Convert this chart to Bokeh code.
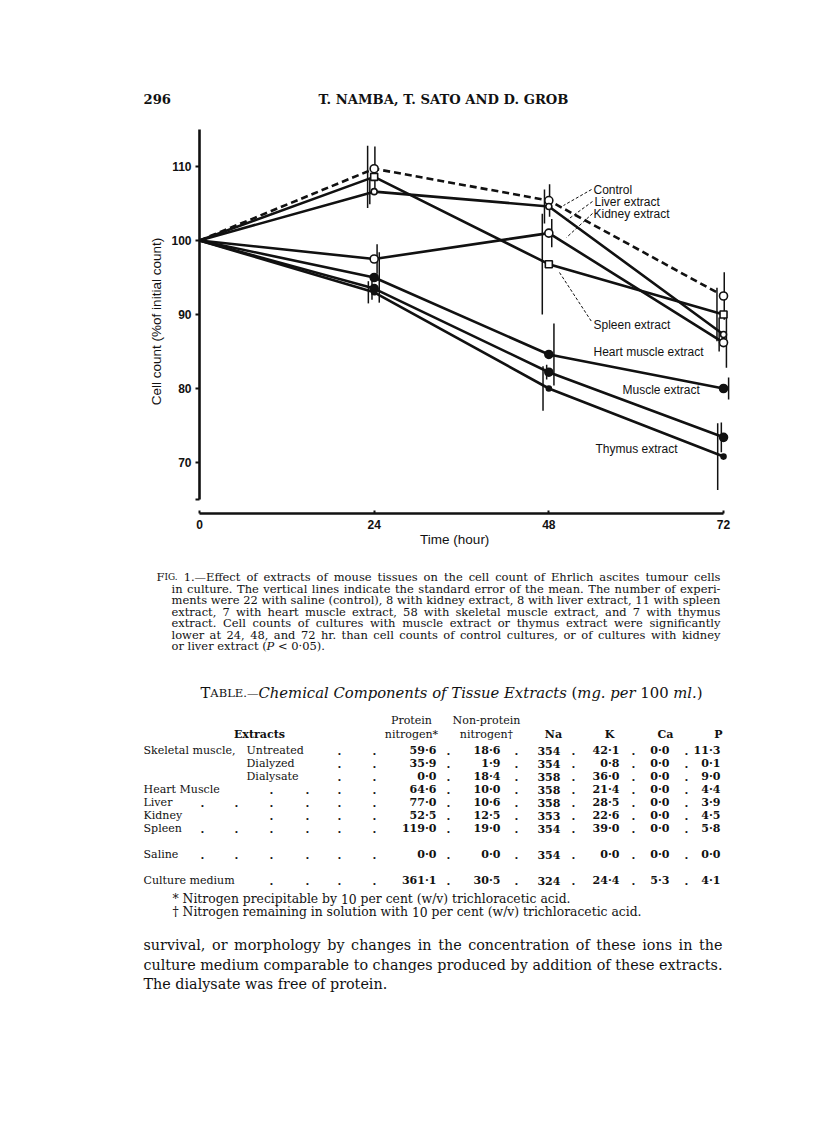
import os
import glob
import subprocess

from bokeh.plotting import figure
from bokeh.models import Range1d, FixedTicker, Label, Arrow, ColumnDataSource, CDSView, IndexFilter
from bokeh.layouts import column
from bokeh.core.properties import value
from bokeh.transform import dodge
from bokeh.embed import file_html
from bokeh.resources import INLINE

try:
    from PIL import ImageFont
except Exception:
    ImageFont = None

# ---------------------------------------------------------------- data
hours = [0, 24, 48, 72]
x_ticks = [0, 24, 48, 72]
y_ticks = [70, 80, 90, 100, 110]

control = [100.0, 109.7, 105.4, 92.5]
liver = [100.0, 106.6, 104.6, 87.3]
kidney = [100.0, 97.5, 101.0, 86.2]
spleen = [100.0, 108.6, 96.8, 90.0]
heart_muscle = [100.0, 95.0, 84.6, 80.0]
muscle = [100.0, 93.5, 82.2, 73.4]
thymus = [100.0, 93.0, 80.0, 70.8]

control_se = [0.0, 3.0, 2.2, 3.2]
liver_se = [0.0, 1.7, 2.3, 2.3]
kidney_se = [0.0, 2.0, 1.9, 3.4]
spleen_se = [0.0, 4.2, 6.8, 3.6]
heart_muscle_se = [0.0, 3.4, 4.2, 1.5]
muscle_se = [0.0, 1.5, 1.0, 2.0]
thymus_se = [0.0, 1.5, 3.0, 4.5]

table_extract = ["Skeletal muscle,", "", "", "Heart Muscle", "Liver", "Kidney", "Spleen", "Saline", "Culture medium"]
table_treatment = ["Untreated", "Dialyzed", "Dialysate", "", "", "", "", "", ""]
protein_nitrogen = ["59\u00b76", "35\u00b79", "0\u00b70", "64\u00b76", "77\u00b70", "52\u00b75", "119\u00b70", "0\u00b70", "361\u00b71"]
nonprotein_nitrogen = ["18\u00b76", "1\u00b79", "18\u00b74", "10\u00b70", "10\u00b76", "12\u00b75", "19\u00b70", "0\u00b70", "30\u00b75"]
sodium = ["354", "354", "358", "358", "358", "353", "354", "354", "324"]
potassium = ["42\u00b71", "0\u00b78", "36\u00b70", "21\u00b74", "28\u00b75", "22\u00b76", "39\u00b70", "0\u00b70", "24\u00b74"]
calcium = ["0\u00b70", "0\u00b70", "0\u00b70", "0\u00b70", "0\u00b70", "0\u00b70", "0\u00b70", "0\u00b70", "5\u00b73"]
phosphorus = ["11\u00b73", "0\u00b71", "9\u00b70", "4\u00b74", "3\u00b79", "4\u00b75", "5\u00b78", "0\u00b70", "4\u00b71"]

# ---------------------------------------------------------------- text measuring
SERIF = "DejaVu Serif"
SANS = "Liberation Sans"
_fcache = {}


def _font(fam, style):
    key = (fam, style)
    if key in _fcache:
        return _fcache[key]
    f = None
    if ImageFont is not None:
        path = None
        spec = fam + ("" if style == "normal" else ":" + style)
        try:
            r = subprocess.run(["fc-match", "-f", "%{file}", spec], capture_output=True, text=True, timeout=10)
            cand = r.stdout.strip()
            if r.returncode == 0 and os.path.isfile(cand):
                path = cand
        except Exception:
            path = None
        if path is None:
            base = fam.replace(" ", "")
            suf = {"normal": "", "bold": "-Bold", "italic": "-Italic"}[style]
            c = glob.glob("/usr/share/fonts/**/%s%s.ttf" % (base, suf), recursive=True)
            if c:
                path = c[0]
        if path:
            try:
                f = ImageFont.truetype(path, 100)
            except Exception:
                f = None
    _fcache[key] = f
    return f


def tw(s, fam, style, size):
    f = _font(fam, style)
    if f is None:
        return len(s) * size * (0.6 if fam == SERIF else 0.52)
    try:
        return f.getlength(s) * size / 100.0
    except Exception:
        return len(s) * size * 0.6


def _runs(word, style):
    return [(word, style, 1.0)] if isinstance(word, str) else word


def natural_w(words, fam, style, size):
    tot = 0.0
    for w in words:
        tot += sum(tw(t, fam, st, size * k) for t, st, k in _runs(w, style))
    return tot + (len(words) - 1) * tw(" ", fam, style, size)


def fit_size(lines, targets, fam, style="normal", base=10.0):
    return base * min(t / natural_w(l, fam, style, base) for l, t in zip(lines, targets))


PAGE_W = 800


class Page:
    """A figure whose frame is the whole figure, with data units equal to page pixels."""

    def __init__(self, top, bottom):
        self.groups = {}
        f = figure(width=PAGE_W, height=bottom - top, x_range=Range1d(0, PAGE_W), y_range=Range1d(bottom, top),
                   output_backend="svg", toolbar_location=None, min_border=0, min_border_left=0,
                   min_border_right=0, min_border_top=0, min_border_bottom=0,
                   outline_line_color=None, x_axis_location=None, y_axis_location=None,
                   background_fill_color="white", border_fill_color="white")
        f.frame_align = False
        f.grid.visible = False
        self.fig = f

    def put(self, x, y, s, fam, style, size):
        key = (fam, style, round(size, 2))
        g = self.groups.setdefault(key, {"x": [], "y": [], "text": []})
        g["x"].append(x)
        g["y"].append(y)
        g["text"].append(s)

    def line(self, words, x0, yc, fam, size, style="normal", width=None, align="left"):
        ws = [_runs(w, style) for w in words]
        wid = [sum(tw(t, fam, st, size * k) for t, st, k in r) for r in ws]
        if width is not None and len(ws) > 1:
            gap = (width - sum(wid)) / (len(ws) - 1)
        else:
            gap = tw(" ", fam, style, size)
        total = sum(wid) + gap * (len(ws) - 1)
        x = x0 - total / 2 if align == "center" else (x0 - total if align == "right" else x0)
        base = yc + 0.3 * size
        for r, w in zip(ws, wid):
            xx = x
            for t, st, k in r:
                self.put(xx, base, t, fam, st, size * k)
                xx += tw(t, fam, st, size * k)
            x += w + gap

    def render(self):
        for (fam, style, size), g in self.groups.items():
            self.fig.text(x="x", y="y", text="text", source=ColumnDataSource(g),
                          text_font=value(fam), text_font_size=value("%.2fpx" % size),
                          text_font_style=style, text_align="left", text_baseline="alphabetic",
                          text_color="#111111")
        return self.fig


# ---------------------------------------------------------------- running head
head = Page(0, 110)
hdr = ["T.", "NAMBA,", "T.", "SATO", "AND", "D.", "GROB"]
hsize = fit_size([hdr], [250], SERIF, "bold")
head.line(["296"], 143, 95, SERIF, hsize, "bold")
head.line(hdr, 443, 95, SERIF, hsize, "bold", align="center")

# ---------------------------------------------------------------- chart
XS, YS = 7.278, 7.4          # pixels per hour / per percent
X0_PX, Y100_PX = 199, 240    # page position of t = 0 and of 100 %
CTOP, CBOT = 110, 560
CW, CH = PAGE_W, CBOT - CTOP
LB, RB = X0_PX, 68
TB = 129 - CTOP
BB = CBOT - 513
x_end = (CW - LB - RB) / XS
y_top = 115.0
y_bot = y_top - (CH - TB - BB) / YS


def px2x(px):
    return (px - X0_PX) / XS


def py2y(py):
    return 100 - (py - Y100_PX) / YS


p = figure(width=CW, height=CH, x_range=Range1d(0, x_end), y_range=Range1d(y_bot, y_top),
           output_backend="svg", toolbar_location=None,
           min_border_left=LB, min_border_right=RB, min_border_top=TB, min_border_bottom=BB,
           outline_line_color=None, background_fill_color="white", border_fill_color="white")
p.frame_align = False
p.grid.visible = False

p.xaxis.ticker = FixedTicker(ticks=x_ticks)
p.xaxis.bounds = (0, 72)
p.xaxis.axis_label = "Time (hour)" + "\u00a0" * 6
p.yaxis.ticker = FixedTicker(ticks=y_ticks, minor_ticks=[65])
p.yaxis.bounds = (65, 115)
p.yaxis.axis_label = "Cell count (%of initial count)"
for ax in (p.xaxis, p.yaxis):
    ax.axis_line_width = 2.6
    ax.axis_line_color = "#111111"
    ax.major_tick_line_width = 2
    ax.major_tick_line_color = "#111111"
    ax.minor_tick_line_width = 2
    ax.minor_tick_line_color = "#111111"
    ax.major_label_text_font = SANS
    ax.major_label_text_font_style = "bold"
    ax.major_label_text_font_size = "12px"
    ax.major_label_text_color = "#111111"
    ax.axis_label_text_font = SANS
    ax.axis_label_text_font_style = "normal"
    ax.axis_label_text_font_size = "13.5px"
    ax.axis_label_text_color = "#111111"
p.xaxis.major_tick_in = 3
p.xaxis.major_tick_out = 0
p.xaxis.minor_tick_in = 0
p.xaxis.minor_tick_out = 0
p.xaxis.major_label_standoff = 6
p.xaxis.axis_label_standoff = 0
p.yaxis.major_tick_in = 0
p.yaxis.major_tick_out = 4
p.yaxis.minor_tick_in = 0
p.yaxis.minor_tick_out = 4
p.yaxis.major_label_standoff = 4
p.yaxis.axis_label_standoff = 4

series = [
    (control, control_se, "circle", 8, "white", "7 4", 0.1),
    (liver, liver_se, "circle", 6, "white", "solid", -0.6),
    (kidney, kidney_se, "circle", 8, "white", "solid", 0.4),
    (spleen, spleen_se, "square", 7, "white", "solid", -0.9),
    (heart_muscle, heart_muscle_se, "circle", 8, "#111111", "solid", 0.7),
    (muscle, muscle_se, "circle", 8, "#111111", "solid", -0.3),
    (thymus, thymus_se, "circle", 5, "#111111", "solid", -0.8),
]

sources = []
for vals, se, mk, sz, fill, dash, dx in series:
    src = ColumnDataSource(dict(x=hours, y=vals,
                                lo=[v - s for v, s in zip(vals, se)],
                                hi=[v + s for v, s in zip(vals, se)]))
    sources.append(src)
    p.line("x", "y", source=src, line_width=2.6, line_color="#111111", line_dash=dash)
for (vals, se, mk, sz, fill, dash, dx), src in zip(series, sources):
    p.segment(x0=dodge("x", dx), x1=dodge("x", dx), y0="lo", y1="hi", source=src,
              line_width=1.5, line_color="#111111")
for (vals, se, mk, sz, fill, dash, dx), src in zip(series, sources):
    p.scatter("x", "y", source=src, view=CDSView(filter=IndexFilter([1, 2, 3])), marker=mk, size=sz,
              fill_color=fill, line_color="#111111", line_width=1.6)

labels = [("Control", 593, 189), ("Liver extract", 594, 201), ("Kidney extract", 593, 213),
          ("Spleen extract", 593, 324), ("Heart muscle extract", 593, 351),
          ("Muscle extract", 622, 389), ("Thymus extract", 595, 448)]
for txt, lx, ly in labels:
    p.add_layout(Label(x=px2x(lx), y=py2y(ly), text=txt, text_font=SANS, text_font_size="12px",
                       text_baseline="middle", text_align="left", text_color="#111111"))

leaders = [(591, 189, 563, 205), (592, 201, 566, 220), (592, 213, 566, 237), (559, 272, 591, 321)]
for ax0, ay0, ax1, ay1 in leaders:
    p.add_layout(Arrow(end=None, x_start=px2x(ax0), y_start=py2y(ay0), x_end=px2x(ax1), y_end=py2y(ay1),
                       line_width=1, line_dash="3 2", line_color="#111111"))

# ---------------------------------------------------------------- caption, table, text
body = Page(560, 1120)

cap = [
    [[("F", "normal", 1.0), ("IG.", "normal", 0.78)], "1.\u2014Effect", "of", "extracts", "of", "mouse", "tissues", "on", "the", "cell", "count", "of", "Ehrlich", "ascites", "tumour", "cells"],
    "in culture.  The vertical lines indicate the standard error of the mean.  The number of experi-".split(),
    "ments were 22 with saline (control), 8 with kidney extract, 8 with liver extract, 11 with spleen".split(),
    "extract, 7 with heart muscle extract, 58 with skeletal muscle extract, and 7 with thymus".split(),
    "extract.  Cell counts of cultures with muscle extract or thymus extract were significantly".split(),
    "lower at 24, 48, and 72 hr. than cell counts of control cultures, or of cultures with kidney".split(),
    ["or", "liver", "extract", [("(", "normal", 1.0), ("P", "italic", 1.0)], "<", "0\u00b705)."],
]
cap_x = [156, 171, 171, 171, 171, 171, 171]
cap_y = [573, 585, 596, 608, 619, 631, 642]
csize = fit_size(cap[:6], [720 - x for x in cap_x[:6]], SERIF)
for i, (words, x0, y0) in enumerate(zip(cap, cap_x, cap_y)):
    body.line(words, x0, y0, SERIF, csize, width=(720 - x0) if i < 6 else None)

ttl = [[("T", "normal", 1.0), ("ABLE.\u2014", "normal", 0.78), ("Chemical", "italic", 1.0)],
       [("Components", "italic", 1.0)], [("of", "italic", 1.0)], [("Tissue", "italic", 1.0)],
       [("Extracts", "italic", 1.0)], [("(", "normal", 1.0), ("mg.", "italic", 1.0)],
       [("per", "italic", 1.0)], "100", [("ml.", "italic", 1.0), (")", "normal", 1.0)]]
tsize = fit_size([ttl], [502], SERIF)
body.line(ttl, 451, 688, SERIF, tsize, align="center")

rsize = fit_size([["Skeletal", "muscle,"]], [92], SERIF)
body.line(["Protein"], 411, 717, SERIF, rsize, align="center")
body.line(["Non-protein"], 486, 717, SERIF, rsize, align="center")
body.line(["Extracts"], 259, 731, SERIF, rsize, "bold", align="center")
body.line(["nitrogen*"], 411, 731, SERIF, rsize, align="center")
body.line(["nitrogen\u2020"], 486, 731, SERIF, rsize, align="center")
for hname, hx in zip(["Na", "K", "Ca", "P"], [553, 609, 665, 718]):
    body.line([hname], hx, 731, SERIF, rsize, "bold", align="center")

row_y = [747, 760, 773, 786, 799, 812, 825, 851, 877]
lead_grid = [202, 236, 271, 307, 339, 374]
lead_n = [2, 2, 2, 4, 6, 4, 6, 6, 4]
col_right = [436, 500, 560, 619, 669, 720]
sep_x = [448, 516, 573, 633, 686]
for i, yy in enumerate(row_y):
    if table_extract[i]:
        body.line(table_extract[i].split(), 143, yy, SERIF, rsize)
    if table_treatment[i]:
        body.line([table_treatment[i]], 246, yy, SERIF, rsize)
    for dxp in lead_grid[len(lead_grid) - lead_n[i]:] + sep_x:
        body.line(["."], dxp, yy, SERIF, rsize, "bold", align="center")
    vals = [protein_nitrogen[i], nonprotein_nitrogen[i], sodium[i], potassium[i], calcium[i], phosphorus[i]]
    for v, rx in zip(vals, col_right):
        body.line([v], rx, yy, SERIF, rsize, "bold", align="right")

fn1 = "* Nitrogen precipitable by 10 per cent (w/v) trichloracetic acid.".split()
fn2 = "\u2020 Nitrogen remaining in solution with 10 per cent (w/v) trichloracetic acid.".split()
fsize = fit_size([fn1], [398], SERIF)
body.line(fn1, 172, 895, SERIF, fsize)
body.line(fn2, 172, 908, SERIF, fsize)

txt = [
    "survival, or morphology by changes in the concentration of these ions in the".split(),
    "culture medium comparable to changes produced by addition of these extracts.".split(),
    "The dialysate was free of protein.".split(),
]
bsize = fit_size(txt[:2], [579, 579], SERIF)
for i, (words, yy) in enumerate(zip(txt, [940, 960, 979])):
    body.line(words, 143, yy, SERIF, bsize, width=579 if i < 2 else None)

layout = column(head.render(), p, body.render())
html = file_html(layout, INLINE, title="Effect of extracts of mouse tissues on cell count")
open("out.html", "w").write(html)
